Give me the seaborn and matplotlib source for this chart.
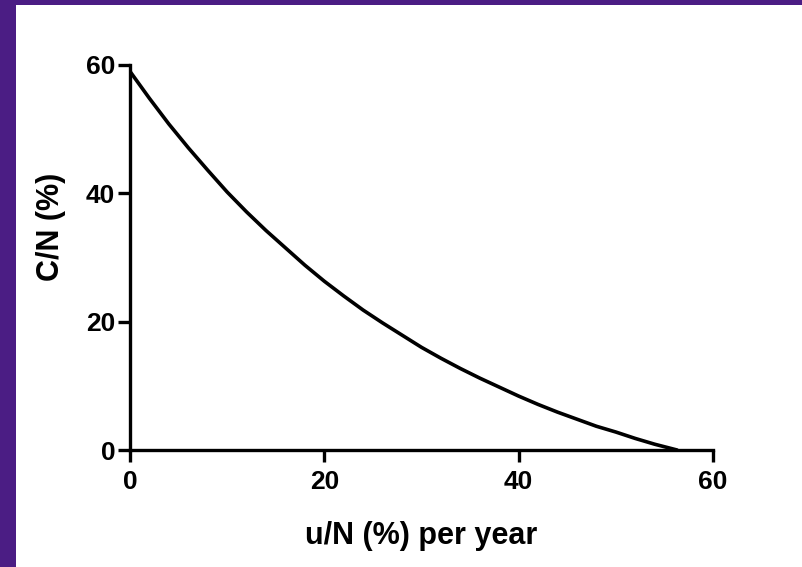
import numpy as np
import matplotlib.pyplot as plt
import seaborn as sns
from matplotlib.patches import Rectangle

# values
u_pct = [0, 2, 4, 6, 8, 10, 12, 14, 16, 18, 20, 22, 24, 26, 28,
         30, 32, 34, 36, 38, 40, 42, 44, 46, 48, 50, 52, 54, 56.3]
c_pct = [59.0, 54.8, 50.8, 47.1, 43.6, 40.2, 37.1, 34.2, 31.5, 28.8, 26.3, 24.0, 21.8, 19.8, 17.9,
         16.0, 14.3, 12.7, 11.2, 9.8, 8.4, 7.1, 5.9, 4.8, 3.7, 2.8, 1.8, 0.9, 0.0]
x_ticks = [0, 20, 40, 60]
y_ticks = [0, 20, 40, 60]

purple = "#4B1D84"

sns.set_style("ticks")
plt.rcParams["font.family"] = ["Liberation Sans", "DejaVu Sans"]
plt.rcParams["font.weight"] = "bold"
plt.rcParams["text.color"] = "black"
plt.rcParams["axes.labelcolor"] = "black"
plt.rcParams["xtick.color"] = "black"
plt.rcParams["ytick.color"] = "black"

fig = plt.figure(figsize=(8.03, 5.67), dpi=100)
fig.patch.set_facecolor(purple)
# white panel inside the purple frame
fig.patches.append(Rectangle((16 / 803, 0), 1 - 16 / 803, 562 / 567,
                             transform=fig.transFigure, facecolor="white",
                             edgecolor="none", zorder=-10))

ax = fig.add_axes([130 / 803, 117 / 567, 583 / 803, 385 / 567])
ax.set_facecolor("white")

sns.lineplot(x=u_pct, y=c_pct, ax=ax, color="black", linewidth=2.6)

ax.set_xlim(0, 60)
ax.set_ylim(0, 60)
ax.set_xticks(x_ticks)
ax.set_yticks(y_ticks)
sns.despine(ax=ax)
for side in ["left", "bottom"]:
    ax.spines[side].set_linewidth(2.4)
    ax.spines[side].set_color("black")

ax.tick_params(axis="both", length=8.6, width=2.4, colors="black", labelsize=19)
ax.tick_params(axis="x", pad=6)
ax.tick_params(axis="y", pad=2)
for lab in ax.get_xticklabels() + ax.get_yticklabels():
    lab.set_fontweight("bold")

ax.set_xlabel("u/N (%) per year", fontsize=22, fontweight="bold")
ax.set_ylabel("C/N (%)", fontsize=22, fontweight="bold")
ax.xaxis.set_label_coords(0.5, -0.185)
ax.yaxis.set_label_coords(-0.11, 0.58)

fig.savefig("out.png", dpi=100)
